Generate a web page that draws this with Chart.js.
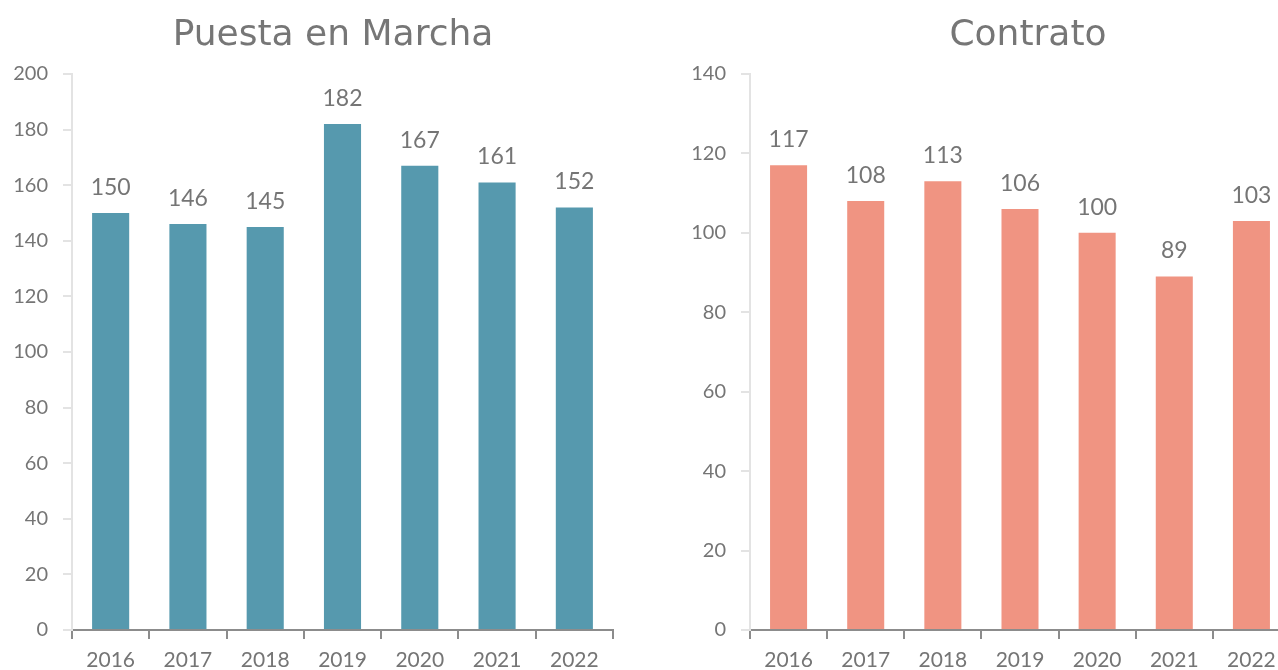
<!DOCTYPE html>
<html>
<head>
<meta charset="utf-8">
<script src="https://cdn.jsdelivr.net/npm/chart.js@4.4.0/dist/chart.umd.min.js"></script>
<style>
html,body{margin:0;padding:0;background:#fff;overflow:hidden;width:1278px;height:670px;}
#wrapL{position:absolute;left:0;top:0;width:640px;height:670px;}
#wrapR{position:absolute;left:640px;top:0;width:660px;height:670px;}
</style>
</head>
<body>
<div id="wrapL"><canvas id="cL"></canvas></div>
<div id="wrapR"><canvas id="cR"></canvas></div>
<script>
const years = ['2016','2017','2018','2019','2020','2021','2022'];
const puestaValues = [150,146,145,182,167,161,152];
const contratoValues = [117,108,113,106,100,89,103];
const puestaTicks = {min:0, max:200, step:20};
const contratoTicks = {min:0, max:140, step:20};
const titles = ['Puesta en Marcha','Contrato'];

const textColor = '#757575';
const labelFont = 'Lato, "Open Sans", sans-serif';

const valueLabels = {
  id:'valueLabels',
  afterDatasetsDraw(chart){
    const ctx = chart.ctx;
    ctx.save();
    ctx.font = '23px ' + labelFont;
    ctx.fillStyle = textColor;
    ctx.textAlign = 'center';
    ctx.textBaseline = 'bottom';
    chart.data.datasets.forEach((ds,i)=>{
      chart.getDatasetMeta(i).data.forEach((bar,j)=>{
        ctx.fillText(String(ds.data[j]), bar.x, bar.y - 14);
      });
    });
    ctx.restore();
  }
};

const bigTitle = {
  id:'bigTitle',
  afterDraw(chart, args, opts){
    const ctx = chart.ctx;
    ctx.save();
    ctx.font = opts.size + 'px "DejaVu Sans", sans-serif';
    ctx.fillStyle = '#767676';
    ctx.textAlign = 'center';
    ctx.textBaseline = 'alphabetic';
    ctx.fillText(opts.text, opts.x, opts.y);
    ctx.restore();
  }
};

function makeChart(id, values, color, tk, title, axisW, padRight, titleX){
  return new Chart(document.getElementById(id), {
    type:'bar',
    data:{labels:years, datasets:[{data:values, backgroundColor:color, borderWidth:0,
      categoryPercentage:1, barPercentage:0.48}]},
    options:{
      responsive:true, maintainAspectRatio:false, animation:false,
      layout:{padding:{top:74, right:padRight, left:0, bottom:0}},
      plugins:{legend:{display:false}, tooltip:{enabled:false}, title:{display:false},
        bigTitle:{text:title, x:titleX, y:45, size:36}},
      scales:{
        x:{
          afterFit(s){ s.height = 40; },
          border:{color:'#8c8c8c', width:2},
          grid:{drawOnChartArea:false, drawTicks:true, tickLength:9, color:'#8c8c8c', lineWidth:2, offset:true},
          ticks:{color:textColor, font:{family:labelFont, size:21}, padding:9}
        },
        y:{
          min:tk.min, max:tk.max,
          afterFit(s){ s.width = axisW; },
          border:{color:'#e3e3e3', width:2},
          grid:{drawOnChartArea:false, drawTicks:true, tickLength:9, color:'#e3e3e3', lineWidth:2},
          ticks:{stepSize:tk.step, color:textColor, font:{family:labelFont, size:20}, padding:15}
        }
      }
    },
    plugins:[valueLabels, bigTitle]
  });
}

makeChart('cL', puestaValues, '#5699ae', puestaTicks, titles[0], 72, 27, 333);
makeChart('cR', contratoValues, '#f09482', contratoTicks, titles[1], 110, 10, 388);
</script>
</body>
</html>
